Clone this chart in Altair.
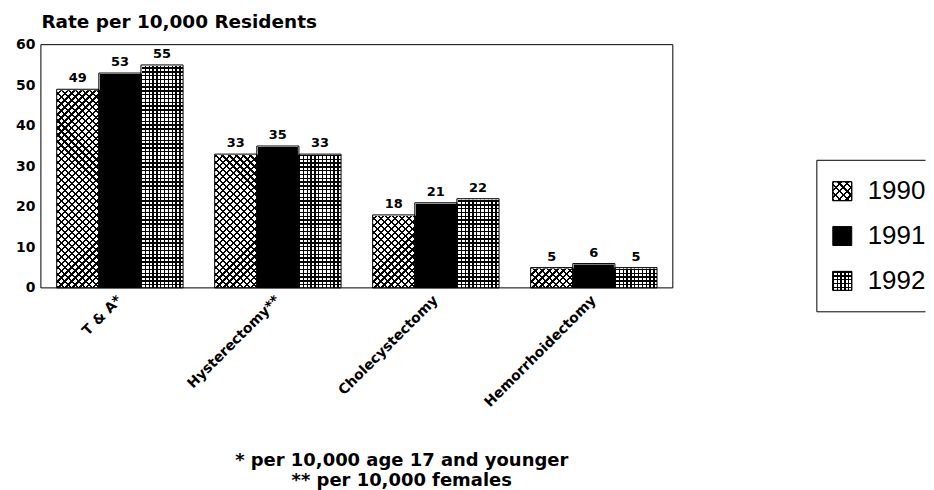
import altair as alt
import pandas as pd

# ---------------- data ----------------
procedures = ["T & A*", "Hysterectomy**", "Cholecystectomy", "Hemorrhoidectomy"]
years = ["1990", "1991", "1992"]
rate_1990 = [49, 33, 18, 5]
rate_1991 = [53, 35, 21, 6]
rate_1992 = [55, 33, 22, 5]
y_ticks = [0, 10, 20, 30, 40, 50, 60]
y_max = 60
axis_title = "Rate per 10,000 Residents"
footnotes = ["*  per 10,000 age 17 and younger", "** per 10,000 females"]

rows = []
for yr, vals in zip(years, [rate_1990, rate_1991, rate_1992]):
    for p, v in zip(procedures, vals):
        rows.append({"procedure": p, "year": yr, "rate": v, "top": y_max})
df = pd.DataFrame(rows)
legend_df = pd.DataFrame({"year": years})
one = pd.DataFrame({"a": [0]})

# ---------------- layout ----------------
W, H = 634, 244
P_IN, P_OUT = 0.2, 0.1
step = W / (len(procedures) - P_IN + 2 * P_OUT)
BW = step * (1 - P_IN) / len(years)
FONT = "DejaVu Sans"
LW = 109           # legend panel width (box runs off the right edge)
BOX_T, BOX_B = 116, 268


def stops(extent, period, line, bg):
    n = max(1, int(round(extent / period)))
    p = 1.0 / n
    b = line / extent
    out = []
    for k in range(n):
        o = k * p
        out += [
            {"offset": min(o, 1.0), "color": "black"},
            {"offset": min(o + b, 1.0), "color": "black"},
            {"offset": min(o + b, 1.0), "color": bg},
            {"offset": min(o + p, 1.0), "color": bg},
        ]
    return out


def diag(w, h, up, bg, period=7.0, line=2.2):
    c = (w + h) / (w * w + h * h)
    if up:  # "/" lines
        g = dict(x1=0, y1=0, x2=c * w, y2=c * h)
    else:   # "\" lines
        g = dict(x1=0, y1=1, x2=c * w, y2=1 - c * h)
    g.update(gradient="linear", stops=stops(w + h, period, line, bg))
    return g


def vstripes(w, bg, period=3.8, line=1.4):
    return dict(gradient="linear", x1=0, y1=0, x2=1, y2=0, stops=stops(w, period, line, bg))


def hstripes(h, bg, period=3.8, line=1.4):
    return dict(gradient="linear", x1=0, y1=0, x2=0, y2=1, stops=stops(h, period, line, bg))


CLEAR = "rgba(255,255,255,0)"

x_enc = alt.X(
    "procedure:N", sort=procedures, title=None,
    scale=alt.Scale(paddingInner=P_IN, paddingOuter=P_OUT),
    axis=alt.Axis(labelAngle=-45, labelAlign="right", labelBaseline="middle",
                  labelPadding=10, ticks=False, domain=False, grid=False,
                  labelFont=FONT, labelFontWeight="bold", labelFontSize=14,
                  labelColor="black"),
)
xo_enc = alt.XOffset("year:N", sort=years, scale=alt.Scale(paddingInner=0, paddingOuter=0))


def y_enc(field):
    return alt.Y(
        field, scale=alt.Scale(domain=[0, y_max]),
        axis=alt.Axis(values=y_ticks, grid=False, ticks=False, domain=False,
                      labelPadding=6, labelFont=FONT, labelFontWeight="bold",
                      labelFontSize=14, labelColor="black",
                      title=axis_title, titleAngle=0, titleAlign="left",
                      titleBaseline="alphabetic", titleX=0, titleY=-17,
                      titleFont=FONT, titleFontWeight="bold", titleFontSize=18.5,
                      titleColor="black"),
    )


base = alt.Chart(df)


def pattern(year, fill):
    return base.transform_filter(alt.datum.year == year).mark_bar(fill=fill).encode(
        x=x_enc, xOffset=xo_enc, y=y_enc("top:Q"))


layers = [
    pattern("1990", diag(BW, H, True, "white")),
    pattern("1990", diag(BW, H, False, CLEAR)),
    pattern("1991", "black"),
    pattern("1992", vstripes(BW, "white")),
    pattern("1992", hstripes(H, CLEAR)),
    base.mark_bar(color="white", stroke="white", strokeWidth=2).encode(
        x=x_enc, xOffset=xo_enc, y=y_enc("rate:Q"), y2="top:Q"),
    base.mark_bar(fillOpacity=0, stroke="black", strokeWidth=1).encode(
        x=x_enc, xOffset=xo_enc, y=y_enc("rate:Q")),
    base.mark_text(font=FONT, fontWeight="bold", fontSize=13, baseline="alphabetic",
                   dy=-7, color="black").encode(
        x=x_enc, xOffset=xo_enc, y=y_enc("rate:Q"), text="rate:Q"),
    alt.Chart(one).mark_rect(fillOpacity=0, stroke="black", strokeWidth=1).encode(
        x=alt.value(0), x2=alt.value(W), y=alt.value(0), y2=alt.value(H)),
]

main = alt.layer(*layers).properties(
    width=W, height=H,
    title=alt.Title(footnotes, orient="bottom", anchor="middle", font=FONT,
                    fontWeight="bold", fontSize=18, lineHeight=20, offset=43,
                    dx=45, color="black"),
)

# ---------------- legend ----------------
LS = 19
ly = alt.Y("year:N", sort=years, axis=None,
           scale=alt.Scale(type="point", range=[147, 237], padding=0))
lbase = alt.Chart(legend_df)


def lsquare(year, fill):
    return lbase.transform_filter(alt.datum.year == year).mark_square(
        size=LS * LS, fill=fill, stroke="black", strokeWidth=1, opacity=1).encode(
        x=alt.value(25.5), y=ly)


def rule(x, x2, y, y2):
    return alt.Chart(one).mark_rule(color="black", strokeWidth=1).encode(
        x=alt.value(x), x2=alt.value(x2), y=alt.value(y), y2=alt.value(y2))


legend = alt.layer(
    rule(0, LW, BOX_T, BOX_T),
    rule(0, 0, BOX_T, BOX_B),
    rule(0, LW, BOX_B, BOX_B),
    lsquare("1990", diag(LS, LS, True, "white", period=7.6, line=2.2)),
    lsquare("1990", diag(LS, LS, False, CLEAR, period=7.6, line=2.2)),
    lsquare("1991", "black"),
    lsquare("1992", vstripes(LS, "white", period=3.8, line=1.4)),
    lsquare("1992", hstripes(LS, CLEAR, period=3.8, line=1.4)),
    lbase.mark_text(font="Liberation Sans", fontSize=26, align="left", baseline="middle",
                    color="black").encode(x=alt.value(51), y=ly, text="year:N"),
).properties(width=LW, height=270)

chart = alt.hconcat(main, legend, spacing=142.5).configure_view(stroke=None).properties(
    padding={"left": 7, "top": 4, "right": 0, "bottom": 0})

chart.save("out.html", embed_options={"renderer": "svg", "actions": False})
